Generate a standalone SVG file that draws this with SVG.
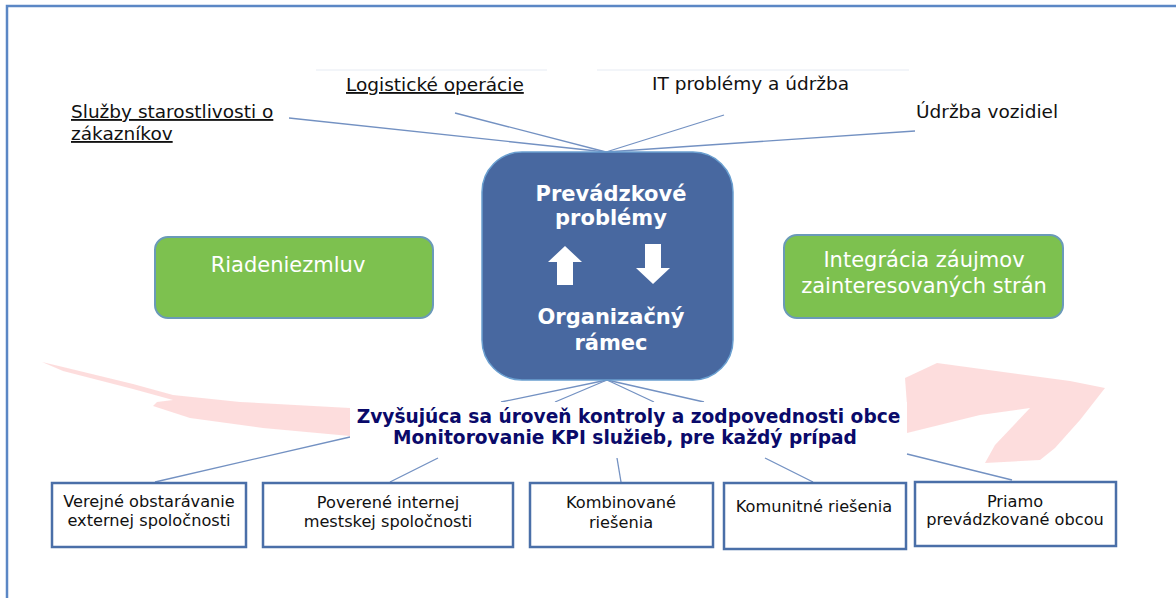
<svg xmlns="http://www.w3.org/2000/svg" width="1176" height="598" viewBox="0 0 1176 598">
<style>
.lbl{font-family:"DejaVu Sans",Verdana,sans-serif;font-size:18.5px;fill:#111}
.u{text-decoration:underline}
.ctr{font-family:"DejaVu Sans",Verdana,sans-serif;font-weight:bold;font-size:21px;fill:#fff;text-anchor:middle}
.grn{font-family:"DejaVu Sans",Verdana,sans-serif;font-size:21px;fill:#fff;text-anchor:middle}
.nav{font-family:"DejaVu Sans",Verdana,sans-serif;font-weight:bold;font-size:18.6px;fill:#0a0a6a;text-anchor:middle}
.bt{font-family:"DejaVu Sans",Verdana,sans-serif;font-size:16.2px;fill:#111;text-anchor:middle}
.box{fill:#fff;stroke:#4a6fa8;stroke-width:2.5}
.gbox{fill:#7dc14f;stroke:#6a9ab8;stroke-width:2}
.con line{stroke:#7391c2;stroke-width:1.3}
.pink{fill:#fcd4d4;opacity:0.8}
</style>
<rect width="1176" height="598" fill="#fff"/>
<!-- frame -->
<path d="M7,598 V6 H1176" fill="none" stroke="#5b87c5" stroke-width="2.5"/>
<!-- faint lines -->
<line x1="316" y1="70" x2="547" y2="70" stroke="#e6ebf3" stroke-width="1"/>
<line x1="597" y1="70" x2="909" y2="70" stroke="#e6ebf3" stroke-width="1"/>
<!-- pink background arrows -->
<g id="pink-arrows">
<polygon class="pink" points="42,362 63,367 133,384 173,395 240,402 350,408 350,436 263,428 190,418 153,406 157,402 173,400 133,389 63,371"/>
<polygon class="pink" points="937,363 1070,381 1105,388 1080,420 1055,448 1040,460 985,463 995,445 1030,408 980,415 907,433 907,405 905,378"/>
</g>
<!-- connectors -->
<g id="connectors" class="con">
<line x1="289" y1="118" x2="606" y2="152"/>
<line x1="455" y1="113" x2="606" y2="152"/>
<line x1="724" y1="115" x2="606" y2="152"/>
<line x1="915" y1="131" x2="606" y2="152"/>
<line x1="607" y1="380" x2="501" y2="402"/>
<line x1="607" y1="380" x2="555" y2="402"/>
<line x1="607" y1="380" x2="654" y2="402"/>
<line x1="607" y1="380" x2="704" y2="402"/>
<line x1="350" y1="437" x2="155" y2="482"/>
<line x1="438" y1="458" x2="390" y2="482"/>
<line x1="617" y1="458" x2="621" y2="482"/>
<line x1="765" y1="458" x2="813" y2="482"/>
<line x1="907" y1="454" x2="1012" y2="480"/>
</g>
<!-- top labels -->
<g id="lbl-logistics"><text class="lbl u" x="346" y="91">Logistické operácie</text></g>
<g id="lbl-it"><text class="lbl" x="652" y="90">IT problémy a údržba</text></g>
<g id="lbl-sluzby"><text class="lbl u" x="71" y="118">Služby starostlivosti o</text><text class="lbl u" x="71" y="140">zákazníkov</text></g>
<g id="lbl-udrzba"><text class="lbl" x="916" y="118">Údržba vozidiel</text></g>
<!-- central box -->
<g id="central">
<rect x="482" y="152" width="251" height="228" rx="40" fill="#4868a0" stroke="#6a9fd0" stroke-width="1.5"/>
<text class="ctr" x="611" y="201">Prevádzkové</text>
<text class="ctr" x="611" y="225">problémy</text>
<polygon points="565,246 582,262 573,262 573,285 557,285 557,262 548,262" fill="#fff"/>
<polygon points="645,244 661,244 661,268 670,268 653,284 636,268 645,268" fill="#fff"/>
<text class="ctr" x="611" y="324">Organizačný</text>
<text class="ctr" x="611" y="350">rámec</text>
</g>
<!-- green boxes -->
<g id="riadenie">
<rect class="gbox" x="155" y="237" width="278" height="81" rx="13"/>
<text class="grn" x="288" y="272">Riadeniezmluv</text>
</g>
<g id="integracia">
<rect class="gbox" x="784" y="235" width="279" height="83" rx="13"/>
<text class="grn" x="924" y="267">Integrácia záujmov</text>
<text class="grn" x="924" y="293">zainteresovaných strán</text>
</g>
<!-- navy label -->
<g id="kontrola">
<rect x="350" y="402" width="557" height="52" fill="#fff"/>
<text class="nav" x="628.5" y="423">Zvyšujúca sa úroveň kontroly a zodpovednosti obce</text>
<text class="nav" x="625" y="444">Monitorovanie KPI služieb, pre každý prípad</text>
</g>
<!-- bottom boxes -->
<g id="verejne">
<rect class="box" x="52" y="483" width="194" height="64"/>
<text class="bt" x="149" y="507">Verejné obstarávanie</text>
<text class="bt" x="149" y="526">externej spoločnosti</text>
</g>
<g id="poverene">
<rect class="box" x="263" y="483" width="250" height="64"/>
<text class="bt" x="388" y="508">Poverené internej</text>
<text class="bt" x="388" y="527">mestskej spoločnosti</text>
</g>
<g id="kombinovane">
<rect class="box" x="530" y="483" width="183" height="64"/>
<text class="bt" x="621" y="508">Kombinované</text>
<text class="bt" x="621" y="528">riešenia</text>
</g>
<g id="komunitne">
<rect class="box" x="724" y="483" width="182" height="66"/>
<text class="bt" x="814" y="512">Komunitné riešenia</text>
</g>
<g id="priamo">
<rect class="box" x="915" y="482" width="201" height="64"/>
<text class="bt" x="1015" y="507">Priamo</text>
<text class="bt" x="1015" y="525">prevádzkované obcou</text>
</g>
</svg>
